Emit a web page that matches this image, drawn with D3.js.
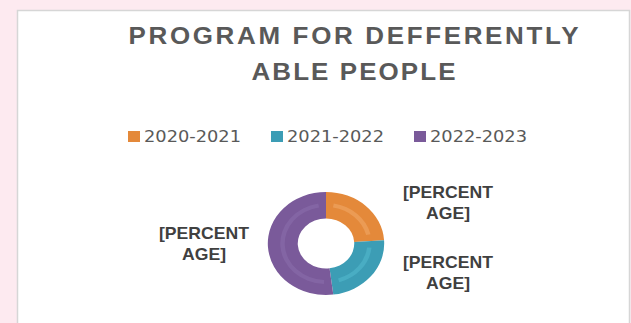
<!DOCTYPE html>
<html>
<head>
<meta charset="utf-8">
<script src="https://cdn.jsdelivr.net/npm/d3@7/dist/d3.min.js"></script>
<style>
  html, body { margin: 0; padding: 0; background: #fdeaf0; }
  svg { display: block; }
</style>
</head>
<body>
<svg id="chart" width="631" height="323"></svg>
<script>
// Share of the programme by academic year
const categories = ["2020-2021", "2021-2022", "2022-2023"];
const values = [24, 24, 52];
const colors = ["#e4893a", "#3c9db5", "#7a5a9a"];
const stripeColors = ["#eea260", "#4fb3c9", "#8869a8"];
const labelTexts = ["[PERCENTAGE]", "[PERCENTAGE]", "[PERCENTAGE]"];
const titleLines = ["PROGRAM FOR DEFFERENTLY", "ABLE PEOPLE"];

const svg = d3.select("#chart");
// the ring is drawn slightly wider than tall
const stretchX = 1.13;
// the title face is widened a little
const titleStretch = 1.06;

// chart panel
svg.append("rect")
  .attr("x", 17.5).attr("y", 10.5)
  .attr("width", 612).attr("height", 330)
  .attr("fill", "#ffffff")
  .attr("stroke", "#d6d6d6").attr("stroke-width", 1.5);

// title
const title = svg.append("text")
  .attr("transform", `translate(353.5,0) scale(${titleStretch},1)`)
  .attr("text-anchor", "middle")
  .attr("font-family", "Liberation Sans, Arial, sans-serif")
  .attr("font-weight", "bold")
  .attr("font-size", 24.5)
  .attr("fill", "#595959");
const titleWidths = [450, 204];
titleLines.forEach((t, i) => {
  title.append("tspan")
    .attr("x", 0)
    .attr("y", 44.3 + i * 35.7)
    .attr("textLength", titleWidths[i] / titleStretch)
    .attr("lengthAdjust", "spacing")
    .text(t);
});

// legend
const legendX = d3.scaleOrdinal().domain(categories).range([128, 271, 414]);
const items = svg.append("g").selectAll("g").data(categories).join("g")
  .attr("transform", d => `translate(${legendX(d)},0)`);
items.append("rect")
  .attr("x", 0).attr("y", 131)
  .attr("width", 12).attr("height", 11)
  .attr("fill", (d, i) => colors[i]);
items.append("text")
  .attr("x", 16).attr("y", 141.5)
  .attr("font-family", "DejaVu Sans, Verdana, sans-serif")
  .attr("font-size", 16)
  .attr("fill", "#595959")
  .attr("textLength", 97)
  .attr("lengthAdjust", "spacingAndGlyphs")
  .text(d => d);

// donut
const cx = 326, cy = 243.5;
const outerR = 51.5, innerR = 25;
const pie = d3.pie().sort(null).value(d => d);
const arcs = pie(values);
const arc = d3.arc().innerRadius(innerR).outerRadius(outerR);
const g = svg.append("g").attr("transform", `translate(${cx},${cy}) scale(${stretchX},1)`);

g.selectAll("path.slice").data(arcs).join("path")
  .attr("class", "slice")
  .attr("d", arc)
  .attr("fill", (d, i) => colors[i]);

// soft highlight running along the middle of each ring segment
const inset = 0.17;
const stripe = d3.arc().innerRadius(36.5).outerRadius(40.5);
g.selectAll("path.stripe").data(arcs).join("path")
  .attr("class", "stripe")
  .attr("d", d => stripe({ startAngle: d.startAngle + inset, endAngle: d.endAngle - inset }))
  .attr("fill", (d, i) => stripeColors[i])
  .attr("opacity", 0.7);

// data labels, wrapped on two lines beside each segment
const labelDx = 122;
const labels = svg.append("g");
arcs.forEach((d, i) => {
  const mid = (d.startAngle + d.endAngle) / 2;
  const lx = cx + Math.sign(Math.sin(mid)) * labelDx;
  const blockY = cy - Math.cos(mid) * outerR - 4;
  const t = labels.append("text")
    .attr("text-anchor", "middle")
    .attr("font-family", "Liberation Sans, Arial, sans-serif")
    .attr("font-weight", "bold")
    .attr("font-size", 17)
    .attr("fill", "#404040");
  const txt = labelTexts[i];
  const parts = [txt.slice(0, 8), txt.slice(8)];
  parts.forEach((p, k) => {
    t.append("tspan")
      .attr("x", lx)
      .attr("y", blockY - 4 + k * 21)
      .attr("textLength", k === 0 ? 90 : 44)
      .attr("lengthAdjust", "spacingAndGlyphs")
      .text(p);
  });
});
</script>
</body>
</html>
